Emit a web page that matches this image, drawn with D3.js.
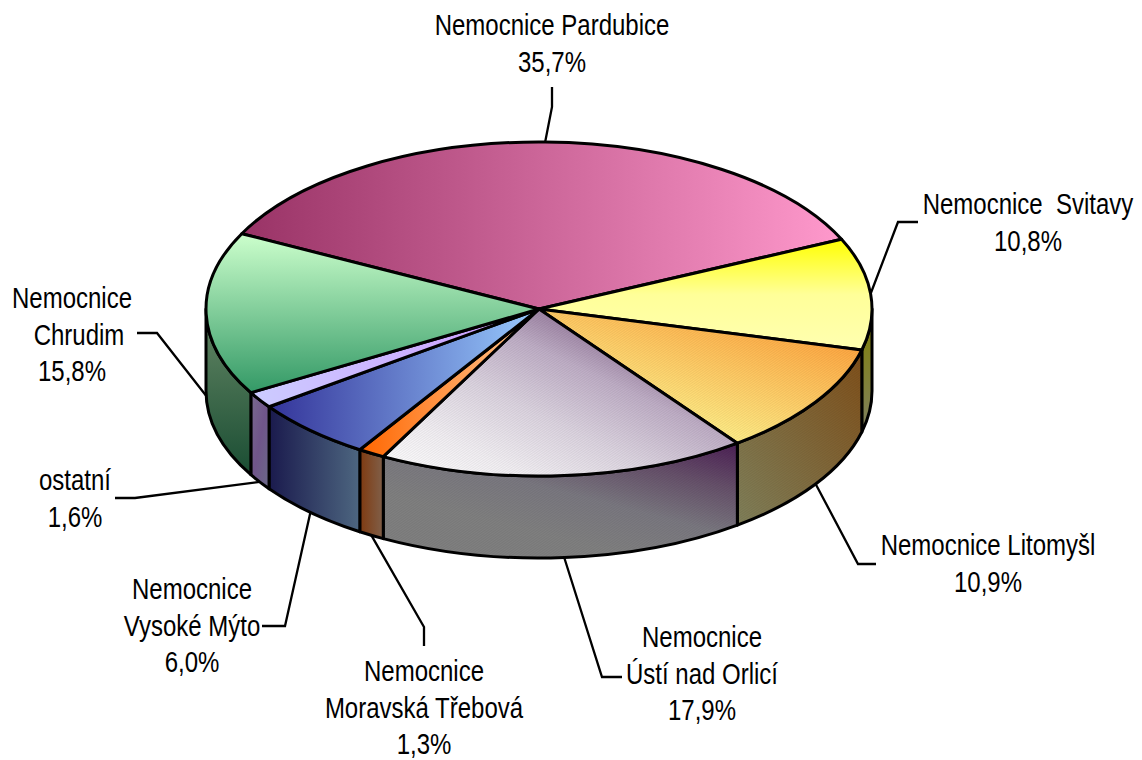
<!DOCTYPE html>
<html>
<head>
<meta charset="utf-8">
<script src="https://cdn.jsdelivr.net/npm/d3@7"></script>
<style>
  html, body { margin: 0; padding: 0; background: #fff; }
  svg { display: block; }
  text { font-family: "Liberation Sans", Arial, sans-serif; font-size: 30px; fill: #000; }
</style>
</head>
<body>
<div id="chart"></div>
<script>
// values, clockwise from the Pardubice slice
const names = ["Nemocnice Pardubice", "Nemocnice  Svitavy", "Nemocnice Litomyšl", "Nemocnice Ústí nad Orlicí",
               "Nemocnice Moravská Třebová", "Nemocnice Vysoké Mýto", "ostatní", "Nemocnice Chrudim"];
const shares = [35.7, 10.8, 10.9, 17.9, 1.3, 6.0, 1.6, 15.8];
const labelLines = [
    ["Nemocnice Pardubice"], ["Nemocnice  Svitavy"], ["Nemocnice Litomyšl"],
    ["Nemocnice", "Ústí nad Orlicí"], ["Nemocnice", "Moravská Třebová"],
    ["Nemocnice", "Vysoké Mýto"], ["ostatní"], ["Nemocnice", "Chrudim"]
];

// layout: label centre + first baseline, then the leader's bend and end
const labelAt = [[552, 35], [1028, 214], [988, 555], [702, 647], [424, 681], [192, 599], [75, 490], [72, 308]];
const leaderAt = [
    [[552, 107], [552, 87]], [[898, 222], [918, 222]], [[858, 564], [876, 564]], [[602, 677], [622, 677]],
    [[424, 627], [424, 646]], [[285, 626], [262, 626]], [[135, 498], [115, 498]], [[157, 333], [137, 333]]
];
const lineGap = 36.5;
const textSqueeze = 0.8;

// gradient per slice: direction + colour stops, top face and wall
const topFills = [
    { dir: [0, 0, 1, 0], stops: ["#993366", "#ff99cc"] },
    { dir: [0, 0, 0, 1], stops: ["#ffff00", "#ffff99", "#ffffb0"] },
    { dir: [1, 0.1, 0.3, 1], stops: ["#ff9933", "#ffcc66", "#ffff99"] },
    { dir: [1, 0, 0, 1], stops: ["#86668c", "#86668c", "#bfaec6", "#dcd4e0", "#f2eff3", "#ffffff"] },
    { dir: [0, 0, 1, 0], stops: ["#ff6600", "#ffcc99"] },
    { dir: [0, 0, 1, 0], stops: ["#333399", "#99ccff"] },
    { dir: [0, 0, 1, 0], stops: ["#ccccff", "#cc99ff"] },
    { dir: [0, 0, 0, 1], stops: ["#ccffcc", "#339966"] }
];
const wallFills = [
    { dir: [0, 0, 1, 0], stops: ["#4d1a33", "#804d66"] },
    { dir: [0, 0, 0, 1], stops: ["#808000", "#808060"] },
    { dir: [1, 0, 0, 1], stops: ["#80501a", "#80805a"] },
    { dir: [1, 0, 0.2, 1], stops: ["#4c1f55", "#66506a", "#7a7880", "#808080", "#808080"] },
    { dir: [0, 0, 1, 0], stops: ["#7f3a10", "#80604a"] },
    { dir: [0, 0, 1, 0], stops: ["#1a1a4d", "#4d6680"] },
    { dir: [0, 0, 1, 1], stops: ["#7a6a90", "#70558a", "#6a6a88"] },
    { dir: [0, 0, 0, 1], stops: ["#668866", "#1a4d33"] }
];
const hatched = [2, 3];   // these two have the dithered look in the original

const width = 1142, height = 760;
const depth = 82;
const deg = Math.PI / 180;

// projection of the unit disc on to the page
const xScale = d3.scaleLinear().domain([-1, 1]).range([206, 872]);
const yScale = d3.scaleLinear().domain([-1, 1]).range([476, 142]);
const rx = (xScale(1) - xScale(-1)) / 2;
const ry = (yScale(-1) - yScale(1)) / 2;
const px = a => xScale(Math.sin(a));
const py = a => yScale(Math.cos(a));

const pie = d3.pie().sort(null).startAngle(-63.2 * deg).endAngle(296.8 * deg);
const slices = pie(shares);

const svg = d3.select("#chart").append("svg")
    .attr("width", width)
    .attr("height", height);
const defs = svg.append("defs");

function addGradient(id, fill) {
    const g = defs.append("linearGradient")
        .attr("id", id)
        .attr("x1", fill.dir[0]).attr("y1", fill.dir[1])
        .attr("x2", fill.dir[2]).attr("y2", fill.dir[3]);
    fill.stops.forEach((c, i) => {
        g.append("stop")
            .attr("offset", i / (fill.stops.length - 1))
            .attr("stop-color", c);
    });
}
topFills.forEach((f, i) => addGradient("top" + i, f));
wallFills.forEach((f, i) => addGradient("wall" + i, f));

const hatch = defs.append("pattern")
    .attr("id", "hatch")
    .attr("width", 2).attr("height", 2)
    .attr("patternUnits", "userSpaceOnUse")
    .attr("patternTransform", "rotate(-35)");
hatch.append("rect")
    .attr("width", 2).attr("height", 1)
    .attr("fill", "#000").attr("opacity", 0.06);

function topPath(d) {
    const big = d.endAngle - d.startAngle > Math.PI ? 1 : 0;
    return `M${xScale(0)},${yScale(0)}L${px(d.startAngle)},${py(d.startAngle)}` +
        `A${rx},${ry} 0 ${big} 1 ${px(d.endAngle)},${py(d.endAngle)}Z`;
}

// wall only exists on the front half of the rim
function wallPath(d) {
    const a0 = Math.max(d.startAngle, 90 * deg);
    const a1 = Math.min(d.endAngle, 270 * deg);
    if (a1 <= a0) return null;
    return `M${px(a0)},${py(a0)}A${rx},${ry} 0 0 1 ${px(a1)},${py(a1)}` +
        `L${px(a1)},${py(a1) + depth}A${rx},${ry} 0 0 0 ${px(a0)},${py(a0) + depth}Z`;
}

// Leaders go under the pie so that they stop at its edge
const leaders = svg.append("g").attr("fill", "none").attr("stroke", "#000").attr("stroke-width", 2.3);
slices.forEach((d, i) => {
    const mid = (d.startAngle + d.endAngle) / 2;
    const start = [px(mid), py(mid) + (Math.cos(mid) < 0 ? depth : 0)];
    leaders.append("path")
        .attr("d", d3.line()([start, ...leaderAt[i]]));
});

const walls = svg.append("g").attr("stroke", "#000").attr("stroke-width", 3).attr("stroke-linejoin", "round");
slices.forEach((d, i) => {
    const p = wallPath(d);
    if (!p) return;
    walls.append("path").attr("d", p).attr("fill", `url(#wall${i})`);
    if (hatched.includes(i)) {
        walls.append("path").attr("d", p).attr("fill", "url(#hatch)").attr("stroke", "none");
    }
});

const tops = svg.append("g").attr("stroke", "#000").attr("stroke-width", 3).attr("stroke-linejoin", "round");
tops.selectAll("path.face")
    .data(slices)
    .enter()
    .append("path")
    .classed("face", true)
    .attr("d", topPath)
    .attr("fill", (d, i) => `url(#top${i})`);

tops.selectAll("path.hatch")
    .data(slices.filter(d => hatched.includes(d.index)))
    .enter()
    .append("path")
    .classed("hatch", true)
    .attr("d", topPath)
    .attr("fill", "url(#hatch)")
    .attr("stroke", "none");

// Labels: name lines and then the share with a decimal comma
const pct = d3.format(".1f");
labelLines.forEach((lines, i) => {
    const rows = [...lines, pct(shares[i]).replace(".", ",") + "%"];
    rows.forEach((t, j) => {
        const dx = t === "Chrudim" ? 7 : 0;
        svg.append("text")
            .attr("transform", `translate(${labelAt[i][0] + dx},${labelAt[i][1] + j * lineGap}) scale(${textSqueeze},1)`)
            .attr("text-anchor", "middle")
            .attr("xml:space", "preserve")
            .style("white-space", "pre")
            .text(t);
    });
});
</script>
</body>
</html>
